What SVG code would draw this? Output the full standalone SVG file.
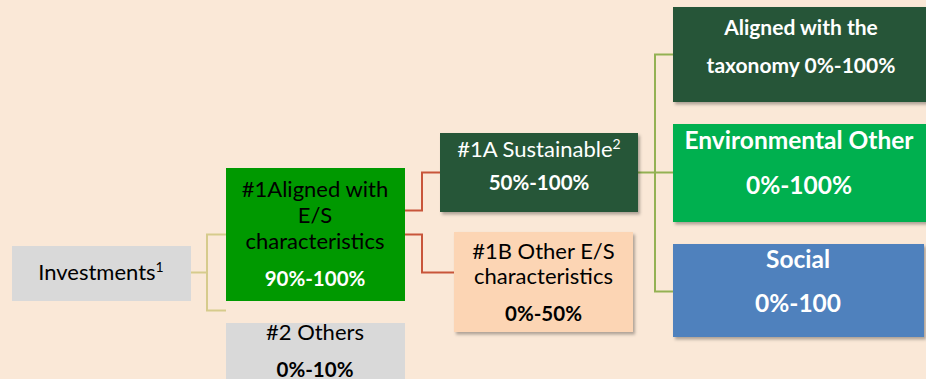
<svg xmlns="http://www.w3.org/2000/svg" width="926" height="379" viewBox="0 0 926 379">
<style>
text{font-family:Lato,"Liberation Sans",sans-serif;text-anchor:middle}
.r{font-size:22px}
.b{font-size:20.5px;font-weight:bold}
.big{font-size:24.5px}
.tx{font-size:21px}
.w{fill:#fff}
.k{fill:#000}
.conn{fill:none;stroke-width:2}
</style>
<defs>
<filter id="sh" x="-5%" y="-5%" width="112%" height="120%">
<feDropShadow dx="2" dy="2.5" stdDeviation="1.5" flood-color="#000" flood-opacity="0.3"/>
</filter>
</defs>
<rect width="926" height="379" fill="#FAE8D7"/>
<g id="connectors">
<path class="conn" stroke="#D6CB8C" d="M191 272.5H207M226 234.5H207V310.5H226"/>
<path class="conn" stroke="#C8553A" d="M405 210.5H422V172.5H440M405 234.5H422V272.5H454"/>
<path class="conn" stroke="#93B153" d="M638 172.5H673M673 54.5H655V291.5H673"/>
</g>
<g id="investments">
<rect x="12" y="246" width="179" height="55" fill="#D9D9D9"/>
<text class="r k" x="101" y="280">Investments<tspan font-size="14" dy="-8">1</tspan></text>
</g>
<g id="aligned-es">
<rect x="226" y="168" width="179" height="133" fill="#009900"/>
<text class="r k" x="315" y="197">#1Aligned with</text>
<text class="r k" x="315" y="223">E/S</text>
<text class="r k" x="315" y="249">characteristics</text>
<text class="b w" x="315" y="285.5">90%-100%</text>
</g>
<g id="others">
<rect x="226" y="323" width="179" height="56" fill="#D9D9D9"/>
<text class="r k" x="315" y="340">#2 Others</text>
<text class="b k" x="315" y="376.5">0%-10%</text>
</g>
<g id="sustainable">
<rect x="440" y="133" width="198" height="79" fill="#255639" filter="url(#sh)"/>
<text class="r w" x="539" y="156.5">#1A Sustainable<tspan font-size="14" dy="-8">2</tspan></text>
<text class="b w" x="539" y="190">50%-100%</text>
</g>
<g id="other-es">
<rect x="454" y="232" width="179" height="100" fill="#FCD5B4" filter="url(#sh)"/>
<text class="r k" x="543.5" y="258.5">#1B Other E/S</text>
<text class="r k" x="543.5" y="283.5">characteristics</text>
<text class="b k" x="543.5" y="320.5">0%-50%</text>
</g>
<g id="taxonomy">
<rect x="673" y="7" width="255" height="95" fill="#265438" filter="url(#sh)"/>
<text class="b tx w" x="801" y="35">Aligned with the</text>
<text class="b tx w" x="801" y="72.5">taxonomy 0%-100%</text>
</g>
<g id="environmental">
<rect x="673" y="124" width="255" height="98" fill="#00B050" filter="url(#sh)"/>
<text class="b big w" x="799" y="149">Environmental Other</text>
<text class="b big w" x="799" y="194">0%-100%</text>
</g>
<g id="social">
<rect x="673" y="244" width="251" height="93" fill="#4F81BD" filter="url(#sh)"/>
<text class="b big w" x="798" y="268">Social</text>
<text class="b big w" x="798" y="311.5">0%-100</text>
</g>
</svg>
